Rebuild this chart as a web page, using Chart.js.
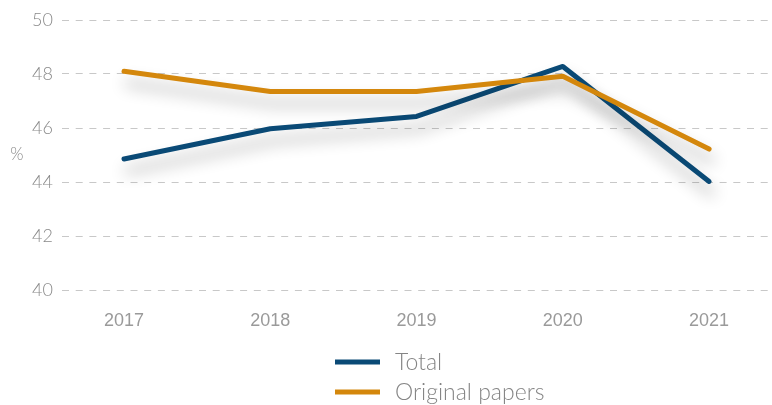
<!DOCTYPE html>
<html><head><meta charset="utf-8">
<script src="https://cdn.jsdelivr.net/npm/chart.js@4/dist/chart.umd.min.js"></script>
<style>html,body{margin:0;padding:0;background:#fff;}#wrap{width:772px;height:405px;position:relative;}</style>
</head><body><div id="wrap"><canvas id="c" width="772" height="405"></canvas></div>
<script>
const years = ['2017','2018','2019','2020','2021'];
const totalValues = [44.85, 45.97, 46.43, 48.28, 44.02];
const originalValues = [48.1, 47.35, 47.35, 47.92, 45.22];
const yTicks = [40, 42, 44, 46, 48, 50];
const seriesNames = ['Total', 'Original papers'];
const seriesColors = ['#0a4a76', '#d4870c'];

const shadowPlugin = {
  id: 'shadow',
  beforeDatasetDraw(chart) { const c = chart.ctx; c.save(); c.shadowColor = 'rgba(0,0,0,0.32)'; c.shadowBlur = 16; c.shadowOffsetX = 3; c.shadowOffsetY = 12; },
  afterDatasetDraw(chart) { chart.ctx.restore(); }
};
const extrasPlugin = {
  id: 'extras',
  afterDraw(chart) {
    const c = chart.ctx, a = chart.chartArea;
    c.save();
    c.fillStyle = '#8a8a8a'; c.font = '300 17px Lato, "Liberation Sans", sans-serif';
    c.textAlign = 'center'; c.textBaseline = 'middle';
    c.fillText('%', 17, (a.top + a.bottom) / 2);
    const rows = [362, 392];
    seriesNames.forEach((n, i) => {
      c.strokeStyle = seriesColors[i]; c.lineWidth = 5; c.lineCap = 'butt';
      c.beginPath(); c.moveTo(335, rows[i]); c.lineTo(380, rows[i]); c.stroke();
      c.fillStyle = '#858585'; c.font = '300 23px Lato, "Liberation Sans", sans-serif';
      c.textAlign = 'left'; c.textBaseline = 'middle';
      c.fillText(n, 395, rows[i] + 1);
    });
    c.restore();
  }
};

new Chart(document.getElementById('c'), {
  type: 'line',
  data: {
    datasets: [
      { label: seriesNames[0], data: totalValues.map((v, i) => ({x: i, y: v})), borderColor: seriesColors[0], borderWidth: 5, pointRadius: 0, tension: 0, borderCapStyle: 'round', borderJoinStyle: 'round', order: 1 },
      { label: seriesNames[1], data: originalValues.map((v, i) => ({x: i, y: v})), borderColor: seriesColors[1], borderWidth: 5, pointRadius: 0, tension: 0, borderCapStyle: 'round', borderJoinStyle: 'round', order: 0 }
    ]
  },
  options: {
    responsive: false, animation: false, devicePixelRatio: 1,
    layout: { padding: { left: 0, right: 0, top: 20, bottom: 0 } },
    plugins: { legend: { display: false }, tooltip: { enabled: false } },
    scales: {
      x: {
        type: 'linear', min: -0.424, max: 4.43,
        grid: { display: false, drawTicks: false }, border: { display: false },
        afterBuildTicks: s => { s.ticks = years.map((_, i) => ({ value: i })); },
        ticks: { callback: v => years[v] ?? '', color: '#9a9a9a', padding: 20, maxRotation: 0, autoSkip: false,
          font: { family: '"Liberation Sans Narrow", "Liberation Sans", sans-serif', size: 18 } },
        afterFit: s => { s.height = 115; }
      },
      y: {
        min: 40, max: 50,
        afterBuildTicks: s => { s.ticks = yTicks.map(v => ({ value: v })); },
        grid: { color: '#c8c8c8', lineWidth: 1, drawTicks: false }, border: { display: false, dash: [7, 6.7] },
        ticks: { color: '#8a8a8a', padding: 9, font: { family: 'Lato, "Liberation Sans", sans-serif', size: 18, weight: '300' } },
        afterFit: s => { s.width = 62; }
      }
    }
  },
  plugins: [shadowPlugin, extrasPlugin]
});
</script></body></html>
